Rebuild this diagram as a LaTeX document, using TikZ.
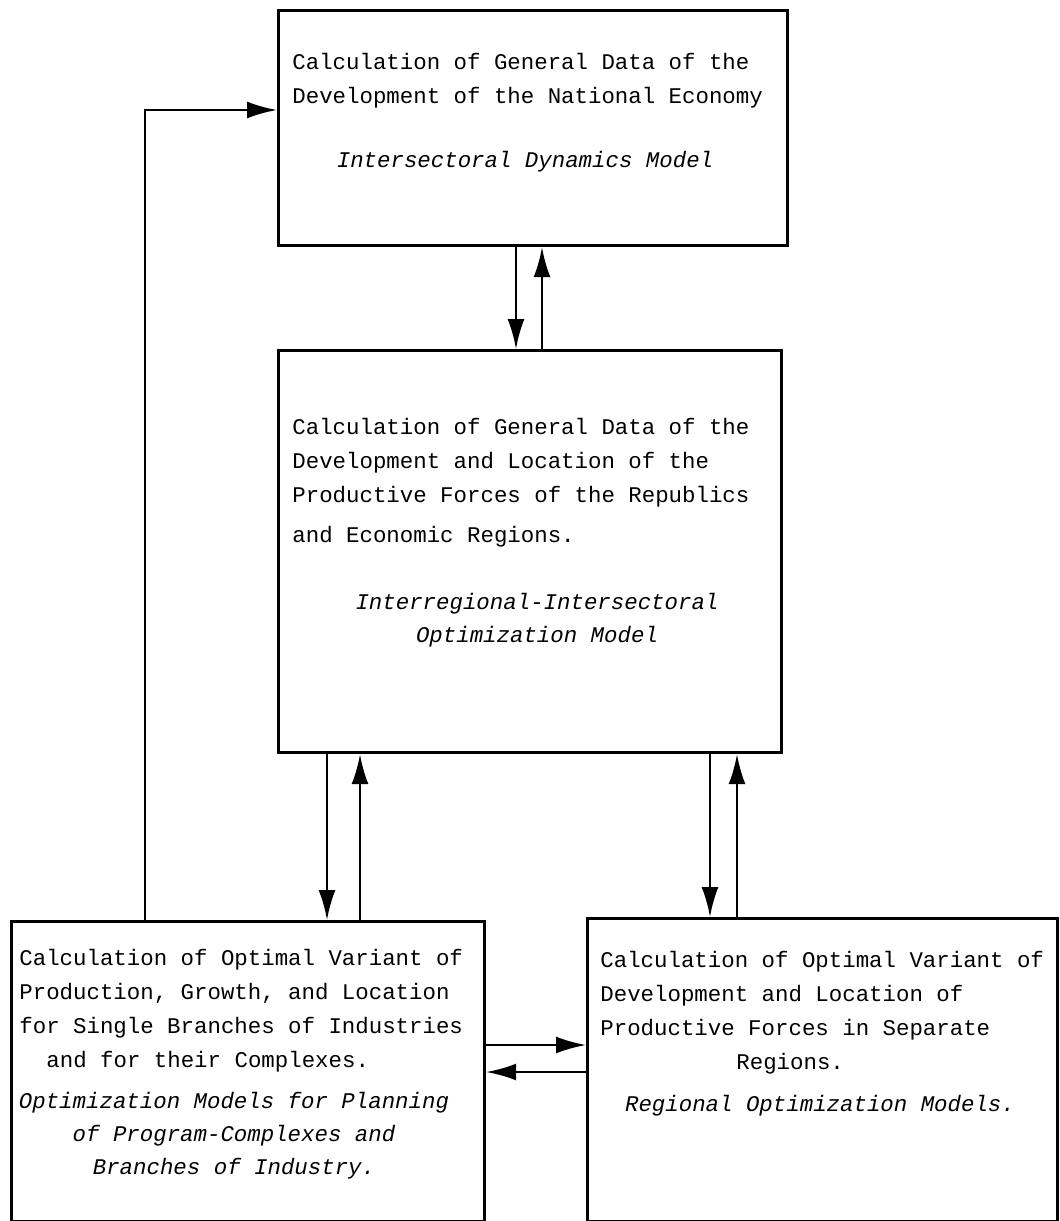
\documentclass[tikz,border=0pt]{standalone}
\usepackage{fontspec}
\setmonofont{Liberation Mono}
\usetikzlibrary{arrows.meta}
\tikzstyle{Box}=[rectangle, draw=black, line width=1.6pt, anchor=north west, inner sep=0pt]
\tikzstyle{Txt}=[font=\ttfamily\fontsize{11.2}{17}\selectfont, align=left, inner sep=0pt, anchor=north west]
\tikzstyle{Mdl}=[font=\ttfamily\itshape\fontsize{11.2}{16.5}\selectfont, align=center, inner sep=0pt]
\tikzstyle{Arr}=[line width=1.2pt, -{Latex[length=15pt,width=8.5pt]}]

\begin{document}
\begin{tikzpicture}[x=0.5pt, y=-0.5pt]
    \useasboundingbox (0,0) rectangle (1060,1221);
    \path
    (277,9) node[Box, minimum width=254.5pt, minimum height=117.5pt] (nat) {}
    (277,349) node[Box, minimum width=251.5pt, minimum height=201pt] (reg) {}
    (10,920) node[Box, minimum width=236.5pt, minimum height=150pt] (branch) {}
    (586,917) node[Box, minimum width=235pt, minimum height=151.5pt] (sep) {};

    \node[Txt] (natT) at (292,53) {Calculation of General Data of the\\Development of the National Economy};
    \node[Mdl] (natM) at (525,162) {Intersectoral Dynamics Model};

    \node[Txt] (regT) at (292,418) {Calculation of General Data of the\\Development and Location of the\\Productive Forces of the Republics\\[3pt]and Economic Regions.};
    \node[Mdl] (regM) at (537,620) {Interregional-Intersectoral\\Optimization Model};

    \node[Txt] (branchT) at (19,949) {Calculation of Optimal Variant of\\Production, Growth, and Location\\for Single Branches of Industries\\\hspace*{13.5pt}and for their Complexes.};
    \node[Mdl] (branchM) at (234,1136) {Optimization Models for Planning\\of Program-Complexes and\\Branches of Industry.};

    \node[Txt] (sepT) at (600,951) {Calculation of Optimal Variant of\\Development and Location of\\Productive Forces in Separate\\\hspace*{68pt}Regions.};
    \node[Mdl] (sepM) at (820,1106) {Regional Optimization Models.};

    \coordinate (d1) at (516,0);
    \coordinate (u1) at (542,0);
    \coordinate (d2) at (327,0);
    \coordinate (u2) at (360,0);
    \coordinate (d3) at (710,0);
    \coordinate (u3) at (737,0);
    \coordinate (h1) at (0,1045);
    \coordinate (h2) at (0,1072);
    \coordinate (k1) at (145,110);

    \draw[Arr] (d1 |- nat.south) -- (d1 |- reg.north);
    \draw[Arr] (u1 |- reg.north) -- (u1 |- nat.south);
    \draw[Arr] (d2 |- reg.south) -- (d2 |- branch.north);
    \draw[Arr] (u2 |- branch.north) -- (u2 |- reg.south);
    \draw[Arr] (d3 |- reg.south) -- (d3 |- sep.north);
    \draw[Arr] (u3 |- sep.north) -- (u3 |- reg.south);
    \draw[Arr] (branch.east |- h1) -- (sep.west |- h1);
    \draw[Arr] (sep.west |- h2) -- (branch.east |- h2);
    \draw[Arr] (k1 |- branch.north) -- (k1) -- (k1 -| nat.west);
\end{tikzpicture}
\end{document}
